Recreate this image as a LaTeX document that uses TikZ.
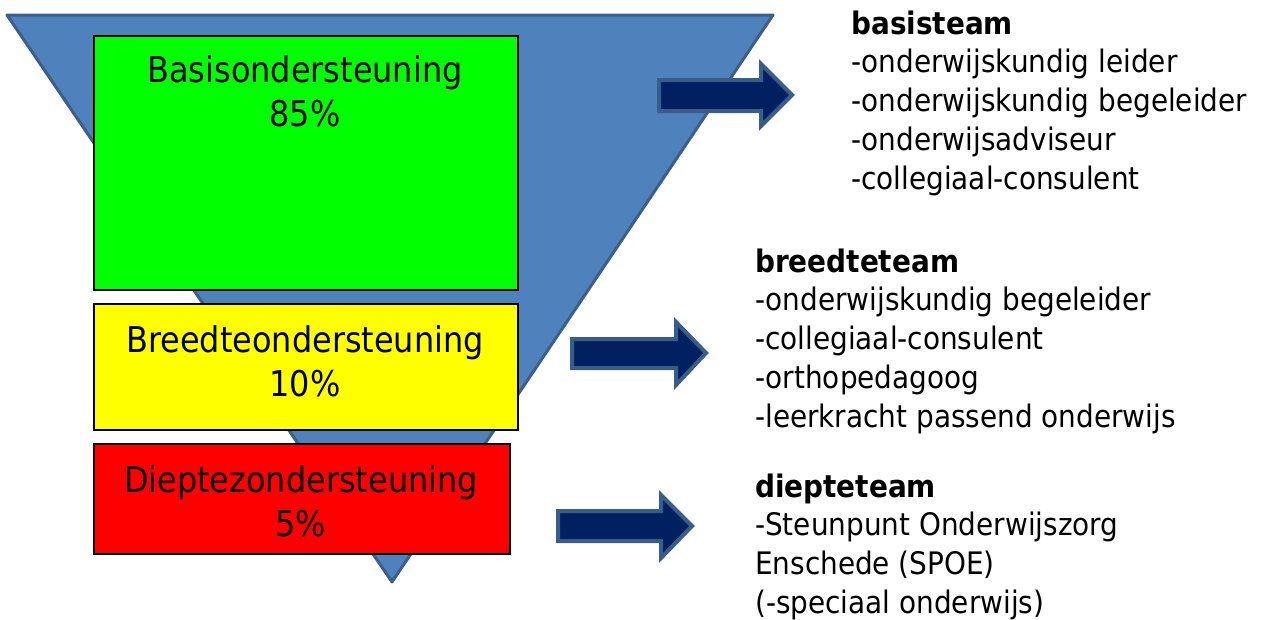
\documentclass[tikz,border=0pt]{standalone}
\usepackage{fontspec}
\setmainfont[FakeStretch=0.9]{DejaVu Sans}
\definecolor{trifill}{HTML}{4F81BD}
\definecolor{triline}{HTML}{3A5F8B}
\definecolor{arrfill}{HTML}{002060}
\definecolor{arrline}{HTML}{385D8A}
\definecolor{lvlgreen}{HTML}{00FF00}
\definecolor{lvlyellow}{HTML}{FFFF00}
\definecolor{lvlred}{HTML}{FF0000}
\begin{document}
\begin{tikzpicture}[x=1pt,y=-1pt,
  levelbox/.style={draw=black, line width=1.5pt, anchor=north west, inner sep=0pt},
  boxtext/.style={align=center, anchor=base, inner sep=0pt, font=\fontsize{35.5}{44}\selectfont},
  listtext/.style={align=left, anchor=base west, inner sep=0pt, font=\fontsize{31}{38.8}\selectfont},
  fatarrow/.style={fill=arrfill, draw=arrline, line width=4pt, line join=miter}]
\useasboundingbox (0,0) rectangle (1262,619);
% funnel
\filldraw[fill=trifill, draw=triline, line width=3pt, line join=round]
  (7,15) coordinate (tl) -- (773,15) coordinate (tr) -- (392,582) coordinate (tip) -- cycle;
% level boxes
\node[levelbox, fill=lvlgreen, minimum width=424pt, minimum height=254pt] (basis) at (93,35) {};
\node[levelbox, fill=lvlyellow, minimum width=424pt, minimum height=126pt] (breedte) at (93,303) {};
\node[levelbox, fill=lvlred, minimum width=416pt, minimum height=110pt] (diepte) at (93,443) {};
% labels (anchor = baseline of last line)
\node[boxtext] (basislbl) at (305,126) {Basisondersteuning\\85\%};
\node[boxtext] (breedtelbl) at (305,396) {Breedteondersteuning\\10\%};
\node[boxtext] (dieptelbl) at (301,536) {Dieptezondersteuning\\5\%};
% arrows
\filldraw[fatarrow] (659,80) -- (761,80) -- (761,64) -- (792,95) -- (761,126) -- (761,111) -- (659,111) -- cycle;
\filldraw[fatarrow] (572,339) -- (676,339) -- (676,322) -- (706,353) -- (676,385) -- (676,368) -- (572,368) -- cycle;
\filldraw[fatarrow] (558,511) -- (661,511) -- (661,495) -- (692,526) -- (661,558) -- (661,541) -- (558,541) -- cycle;
% team lists (anchor = baseline of last line)
\node[listtext] (basisteam) at (851,189.2) {\textbf{basisteam}\\-onderwijskundig leider\\-onderwijskundig begeleider\\-onderwijsadviseur\\-collegiaal-consulent};
\node[listtext] (breedteteam) at (755,427.2) {\textbf{breedteteam}\\-onderwijskundig begeleider\\-collegiaal-consulent\\-orthopedagoog\\-leerkracht passend onderwijs};
\node[listtext] (diepteteam) at (755,613.4) {\textbf{diepteteam}\\-Steunpunt Onderwijszorg\\Enschede (SPOE)\\(-speciaal onderwijs)};
\end{tikzpicture}
\end{document}
